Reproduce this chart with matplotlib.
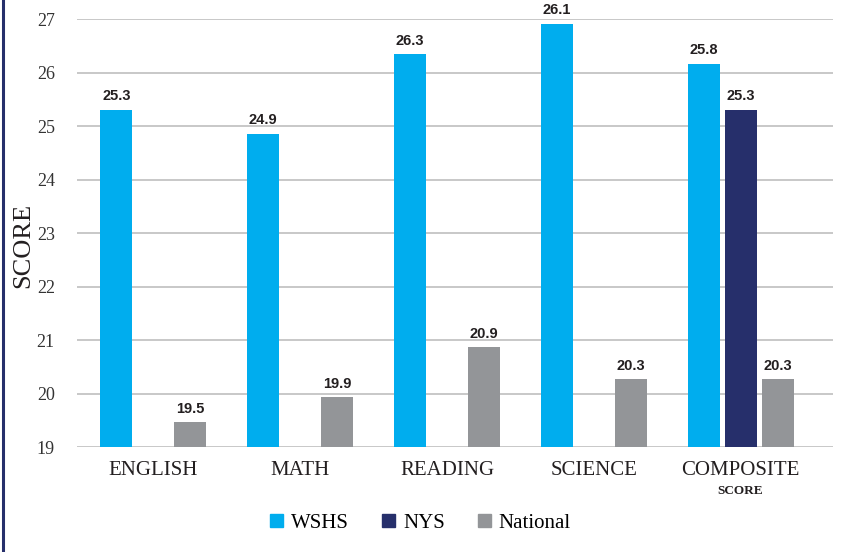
import numpy as np
import matplotlib.pyplot as plt
from matplotlib.patches import Patch
from matplotlib.lines import Line2D

subjects = ["ENGLISH", "MATH", "READING", "SCIENCE", "COMPOSITE"]
series = ["WSHS", "NYS", "National"]
colors = ["#00adee", "#262f6b", "#939598"]

# bar heights as drawn in the picture, and the printed labels
wshs = [25.31, 24.86, 26.35, 26.92, 26.17]
nys = [None, None, None, None, 25.31]
national = [19.47, 19.93, 20.87, 20.27, 20.27]
wshs_lbl = ["25.3", "24.9", "26.3", "26.1", "25.8"]
nys_lbl = [None, None, None, None, "25.3"]
national_lbl = ["19.5", "19.9", "20.9", "20.3", "20.3"]

plt.rcParams["font.family"] = "serif"
plt.rcParams["font.serif"] = ["Liberation Serif", "DejaVu Serif"]

fig = plt.figure(figsize=(8.53, 5.52), dpi=100)
ax = fig.add_axes([0.0903, 0.19, 0.8863, 0.7747])

x = np.arange(len(subjects))
w = 0.218
step = 0.252
for k, (vals, lbls) in enumerate([(wshs, wshs_lbl), (nys, nys_lbl), (national, national_lbl)]):
    for i, v in enumerate(vals):
        if v is None:
            continue
        xi = x[i] + (k - 1) * step
        ax.bar(xi, v - 19, bottom=19, width=w, color=colors[k], zorder=3)
        ax.text(xi, v + 0.12, lbls[i], ha="center", va="bottom", fontsize=10.5,
                fontweight="bold", family="Liberation Sans", color="#231f20")

ax.set_ylim(19, 27)
ax.set_xlim(-0.52, 4.63)
ax.set_yticks(range(19, 28))
ax.set_yticklabels([str(t) for t in range(19, 28)], fontsize=13, color="#333333")
ax.set_xticks(x)
ax.set_xticklabels(subjects, fontsize=15, color="#231f20")
ax.tick_params(axis="both", length=0)
ax.tick_params(axis="y", pad=16)
ax.tick_params(axis="x", pad=10)
ax.grid(axis="y", color="#c8c8c8", linewidth=1.4, zorder=0)
for s in ax.spines.values():
    s.set_visible(False)

ax.text(x[4], 18.18, "SCORE", ha="center", va="center",
        fontsize=9.5, fontweight="bold", color="#231f20")
fig.text(0.027, 0.555, "SCORE", rotation=90, ha="center", va="center",
         fontsize=19, color="#231f20")

handles = [Patch(color=c) for c in colors]
fig.legend(handles, series, loc="center", bbox_to_anchor=(0.493, 0.052), ncol=3,
           frameon=False, handlelength=0.6, handleheight=0.6, handletextpad=0.4,
           columnspacing=1.6, fontsize=15)

fig.add_artist(Line2D([0.004, 0.004], [0, 1], transform=fig.transFigure,
                      color="#262f6b", linewidth=2.2))

fig.savefig("out.png", dpi=100)
